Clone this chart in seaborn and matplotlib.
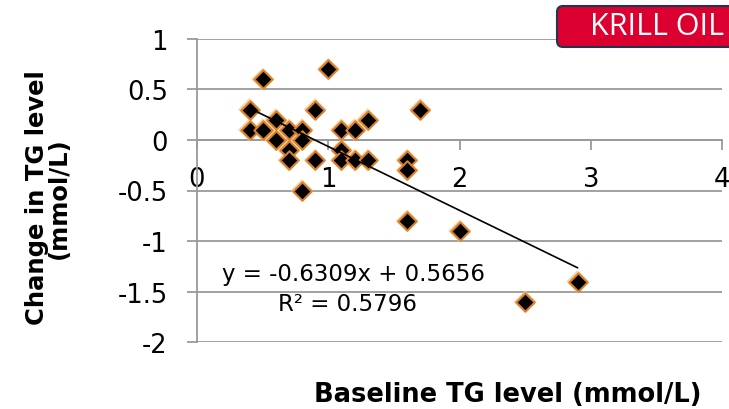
import numpy as np
import pandas as pd
import matplotlib
matplotlib.use("Agg")
import matplotlib.pyplot as plt
import matplotlib.patches as mpatches
import matplotlib.transforms as mtransforms
import seaborn as sns

# ---- data ----
baseline_tg = [0.5, 1.0, 0.4, 0.9, 1.7, 0.6, 1.3, 0.4, 0.5, 0.7, 0.8, 1.1, 1.2,
               0.6, 0.8, 0.7, 1.1, 0.7, 0.9, 1.1, 1.2, 1.3, 1.6, 1.6, 0.8, 1.6,
               2.0, 2.5, 2.9]
change_tg = [0.6, 0.7, 0.3, 0.3, 0.3, 0.2, 0.2, 0.1, 0.1, 0.1, 0.1, 0.1, 0.1,
             0.0, 0.0, -0.1, -0.1, -0.2, -0.2, -0.2, -0.2, -0.2, -0.2, -0.3, -0.5, -0.8,
             -0.9, -1.6, -1.4]
trend_slope = -0.6309
trend_intercept = 0.5656
r_squared = 0.5796
x_ticks = [0, 1, 2, 3, 4]
y_ticks = [1, 0.5, 0, -0.5, -1, -1.5, -2]
badge_text = "KRILL OIL"
x_label = "Baseline TG level (mmol/L)"
y_label = "Change in TG level\n(mmol/L)"

df = pd.DataFrame({"baseline": baseline_tg, "change": change_tg})

sns.set_theme(style="white")
plt.rcParams["font.family"] = ["DejaVu Sans"]

W, H = 729, 410
fig = plt.figure(figsize=(W / 100, H / 100), dpi=100)
ax = fig.add_axes([197 / W, 1 - 343.3 / H, (722 - 197) / W, (343.3 - 39.7) / H])

ax.set_xlim(0, 4)
ax.set_ylim(-2, 1)

grid_c = "#9A9A9A"
for yv in y_ticks:
    ax.axhline(yv, color=grid_c, lw=1.3, zorder=1)

# glow underlay
sns.scatterplot(data=df, x="baseline", y="change", marker="D", s=135,
                color="#F4C994", edgecolor="none", alpha=0.8, ax=ax, zorder=3, legend=False)
sns.scatterplot(data=df, x="baseline", y="change", marker="D", s=88,
                color="black", edgecolor="#D9822A", linewidth=1.5, ax=ax, zorder=4, legend=False)

# trendline
xs = np.array([min(baseline_tg), max(baseline_tg)])
sns.lineplot(x=xs, y=trend_slope * xs + trend_intercept, color="black", lw=1.2, ax=ax, zorder=5)

# spines
for s in ["top", "right"]:
    ax.spines[s].set_visible(False)
ax.spines["left"].set_color(grid_c)
ax.spines["left"].set_linewidth(1.3)
ax.spines["left"].set_position(("data", 0))
ax.spines["bottom"].set_color(grid_c)
ax.spines["bottom"].set_linewidth(1.3)
ax.spines["bottom"].set_position(("data", 0))

ax.set_xticks(x_ticks)
ax.set_xticklabels([str(v) for v in x_ticks])
ax.set_yticks(y_ticks)
ax.set_yticklabels([f"{v:g}" for v in y_ticks])
ax.tick_params(axis="both", which="both", direction="out", length=7, width=1.3,
               color=grid_c, labelsize=18.5, labelcolor="black")
ax.tick_params(axis="x", pad=12, bottom=True)
ax.tick_params(axis="y", pad=14, left=True)
ax.set_xlabel("")
ax.set_ylabel("")

# axis titles
fig.text(508 / W, 1 - 395 / H, x_label, ha="center", va="center",
         fontsize=18.5, fontweight="bold", color="black")
fig.text(48 / W, 1 - 198 / H, y_label, ha="center", va="center", rotation=90,
         fontsize=17.5, fontweight="bold", color="black", linespacing=0.9)

# equation
fig.text(354 / W, 1 - 275 / H, f"y = {trend_slope}x + {trend_intercept}", ha="center",
         va="center", fontsize=16.5, color="black")
fig.text(348 / W, 1 - 305 / H, f"R² = {r_squared}", ha="center", va="center",
         fontsize=16.5, color="black")

# badge
badge = mpatches.FancyBboxPatch((557, H - 48), 200, 41,
                                boxstyle="round,pad=0,rounding_size=6",
                                transform=mtransforms.IdentityTransform(),
                                facecolor="#DC0030", edgecolor="#1F3550", lw=1.5,
                                zorder=10)
fig.patches.append(badge)
fig.text(657 / W, 1 - 27 / H, badge_text, ha="center", va="center", fontsize=22,
         color="white", family=["Open Sans", "DejaVu Sans"], zorder=11)

fig.savefig("out.png", dpi=100)
